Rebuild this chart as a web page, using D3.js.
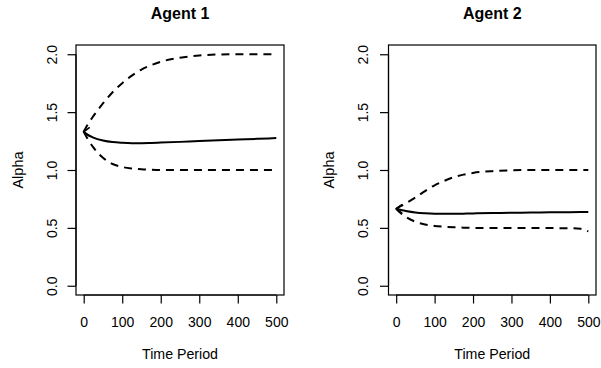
<!DOCTYPE html>
<html><head><meta charset="utf-8">
<script src="https://cdn.jsdelivr.net/npm/d3@7"></script>
<style>body{margin:0;background:#fff}svg{display:block}text{font-family:"Liberation Sans",Arial,sans-serif;fill:#000}</style>
</head><body><svg id="c" width="601" height="368"></svg>
<script>
const time = [0,10,25,50,75,100,125,150,175,200,250,300,350,400,450,480,500];
const agent1Mean  = [1.33,1.305,1.28,1.255,1.241,1.235,1.232,1.232,1.234,1.237,1.243,1.25,1.257,1.263,1.269,1.273,1.276];
const agent1Upper = [1.33,1.39,1.465,1.575,1.672,1.75,1.815,1.868,1.905,1.935,1.97,1.99,1.998,2.0,2.0,2.0,2.0];
const agent1Lower = [1.33,1.27,1.195,1.105,1.052,1.026,1.013,1.006,1.002,1.0,1.0,1.0,1.0,1.0,1.0,1.0,1.0];
const agent2Mean  = [0.665,0.656,0.646,0.633,0.626,0.622,0.621,0.621,0.623,0.625,0.628,0.63,0.632,0.634,0.636,0.637,0.638];
const agent2Upper = [0.665,0.685,0.712,0.762,0.818,0.868,0.906,0.938,0.96,0.975,0.99,0.997,1.0,1.0,1.0,1.0,1.0];
const agent2Lower = [0.665,0.632,0.595,0.553,0.53,0.517,0.51,0.505,0.502,0.5,0.498,0.498,0.498,0.498,0.497,0.492,0.47];
const xTicks = [0,100,200,300,400,500];
const yTicks = [0,0.5,1,1.5,2];
const titles = ["Agent 1","Agent 2"];
const xLabel = "Time Period", yLabel = "Alpha";

const svg = d3.select("#c");
const FONT = "Liberation Sans, Arial, sans-serif";
const panels = [
  {title:titles[0], left:76, right:284, mean:agent1Mean, up:agent1Upper, lo:agent1Lower, ylab:18, tl:24},
  {title:titles[1], left:388.5, right:596, mean:agent2Mean, up:agent2Upper, lo:agent2Lower, ylab:329, tl:25.5}
];
const plotTop=45, plotBottom=295;
panels.forEach(p=>{
  const x = d3.scaleLinear().domain([-20,520]).range([p.left,p.right]);
  const y = d3.scaleLinear().domain([-0.08,2.08]).range([plotBottom,plotTop]);
  const g = svg.append("g");
  g.append("rect").attr("x",p.left).attr("y",plotTop).attr("width",p.right-p.left).attr("height",plotBottom-plotTop)
    .attr("fill","none").attr("stroke","#000").attr("stroke-width",1.2);
  const ax = g.append("g").attr("transform",`translate(0,${plotBottom})`)
    .call(d3.axisBottom(x).tickValues(xTicks).tickSize(8.5).tickPadding(13.3).tickFormat(d3.format("d")).tickSizeOuter(0));
  ax.select(".domain").attr("d",`M${x(0)},0H${x(500)}`).attr("stroke-width",1.2);
  ax.selectAll(".tick line").attr("stroke-width",1.2);
  ax.selectAll("text").attr("font-size",14).attr("font-family",FONT).attr("fill","#000");
  const ay = g.append("g").attr("transform",`translate(${p.left},0)`)
    .call(d3.axisLeft(y).tickValues(yTicks).tickSize(8.5).tickFormat(d3.format(".1f")).tickSizeOuter(0));
  ay.select(".domain").attr("d",`M0,${y(0)}V${y(2)}`).attr("stroke-width",1.2);
  ay.selectAll(".tick line").attr("stroke-width",1.2);
  ay.selectAll(".tick text").attr("font-size",14).attr("font-family",FONT).attr("fill","#000")
    .attr("x",null).attr("dy",null).attr("text-anchor","middle").attr("dominant-baseline","central")
    .attr("transform",`translate(${-p.tl},0) rotate(-90)`);
  g.append("text").attr("x",(p.left+p.right)/2).attr("y",18.5).attr("text-anchor","middle")
    .attr("font-size",16).attr("font-weight","bold").text(p.title);
  g.append("text").attr("x",(p.left+p.right)/2).attr("y",359).attr("text-anchor","middle")
    .attr("font-size",14.2).text(xLabel);
  g.append("text").attr("transform",`translate(${p.ylab},170) rotate(-90)`).attr("text-anchor","middle")
    .attr("dominant-baseline","central").attr("font-size",14.5).text(yLabel);
  const line = d3.line().x((d,i)=>x(time[i])).y(d=>y(d)).curve(d3.curveMonotoneX);
  g.append("path").attr("d",line(p.up)).attr("fill","none").attr("stroke","#000").attr("stroke-width",2).attr("stroke-dasharray","8,6");
  g.append("path").attr("d",line(p.lo)).attr("fill","none").attr("stroke","#000").attr("stroke-width",2).attr("stroke-dasharray","8,6");
  g.append("path").attr("d",line(p.mean)).attr("fill","none").attr("stroke","#000").attr("stroke-width",2);
  const x0 = x(time[0]), y0 = y(p.mean[0]);
  g.append("path").attr("d",`M${x0+6},${y0-4.5}L${x0},${y0}L${x0+6},${y0+4.5}`)
    .attr("fill","none").attr("stroke","#000").attr("stroke-width",1.6);
});
</script></body></html>
